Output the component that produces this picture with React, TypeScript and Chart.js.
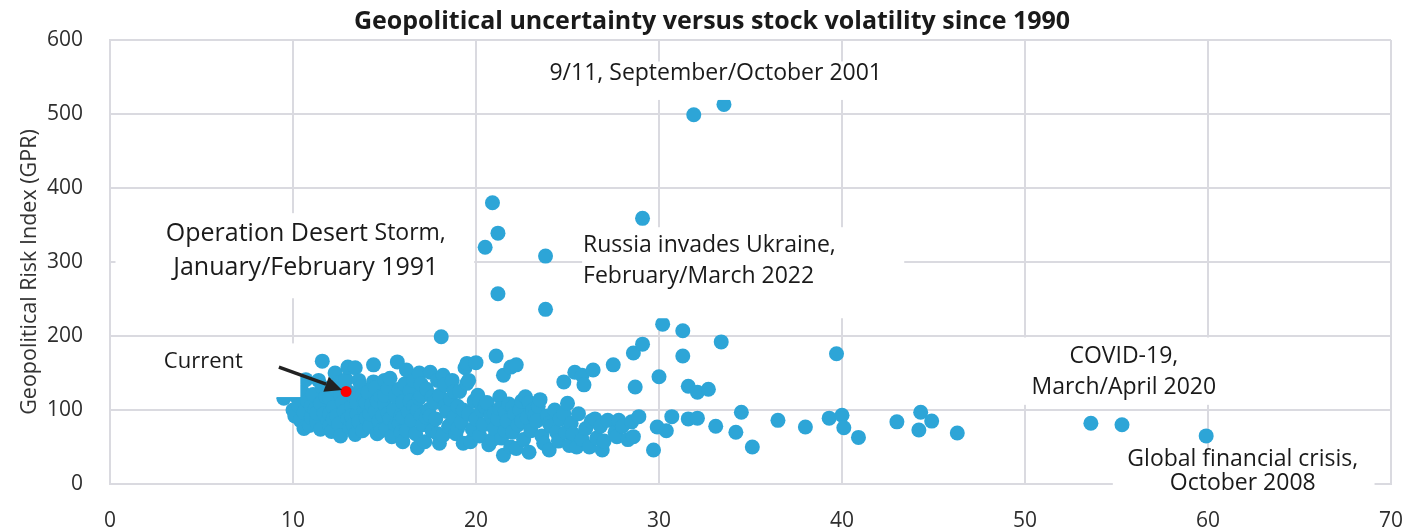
import React, { useEffect, useRef } from "react";
import { Chart, registerables } from "chart.js";

Chart.register(...registerables);

// Monthly observations: [stock volatility, Geopolitical Risk Index]
const lowVolMonths: [number, number][] = [
  [9.5, 116], [10.0, 100], [10.1, 92], [10.2, 118], [10.3, 106], [10.4, 86], [10.5, 125], [10.6, 97],
  [10.6, 75], [10.7, 141], [10.8, 112], [10.9, 79], [11.0, 90], [11.0, 105], [11.1, 121], [11.2, 101],
  [11.3, 84], [11.3, 96], [11.4, 140], [11.5, 74], [11.5, 109], [11.6, 166], [11.6, 131], [11.7, 95],
  [11.8, 118], [11.9, 86], [12.0, 116], [12.0, 95], [12.0, 78], [12.1, 71], [12.2, 103], [12.2, 88],
  [12.3, 150], [12.3, 128], [12.4, 92], [12.5, 81], [12.5, 137], [12.6, 65], [12.6, 120], [12.7, 110],
  [12.8, 98], [12.8, 130], [12.9, 141], [13.0, 158], [13.0, 88], [13.0, 125], [13.1, 76], [13.2, 105],
  [13.2, 92], [13.3, 119], [13.3, 80], [13.4, 157], [13.4, 67], [13.5, 95], [13.5, 110], [13.6, 84],
  [13.6, 140], [13.7, 131], [13.8, 72], [13.8, 120], [13.9, 101], [13.9, 113],
];

const midVolMonths: [number, number][] = [
  [14.0, 89], [14.0, 110], [14.1, 124], [14.2, 78], [14.2, 95], [14.3, 107], [14.4, 138], [14.4, 161],
  [14.5, 98], [14.5, 130], [14.6, 68], [14.6, 112], [14.7, 85], [14.8, 118], [14.8, 72], [14.9, 93],
  [15.0, 108], [15.0, 120], [15.0, 140], [15.1, 75], [15.2, 129], [15.2, 95], [15.3, 143], [15.3, 88],
  [15.4, 64], [15.5, 101], [15.6, 119], [15.6, 80], [15.7, 165], [15.8, 82], [15.8, 128], [15.9, 93],
  [15.9, 70], [16.0, 57], [16.0, 111], [16.0, 90], [16.1, 135], [16.2, 154], [16.2, 72], [16.3, 98],
  [16.4, 125], [16.4, 112], [16.5, 86], [16.6, 105], [16.6, 140], [16.7, 68], [16.8, 49], [16.8, 100],
  [16.9, 150], [16.9, 116], [17.0, 93], [17.0, 120], [17.0, 135], [17.1, 80], [17.2, 57], [17.3, 128],
  [17.3, 90], [17.4, 100], [17.5, 151], [17.5, 92], [17.6, 72], [17.6, 118], [17.7, 110], [17.8, 88],
  [17.9, 140], [17.9, 68], [18.0, 55], [18.0, 120], [18.1, 199], [18.2, 147], [18.2, 66], [18.3, 134],
  [18.3, 105], [18.4, 98], [18.5, 78], [18.6, 115], [18.6, 80], [18.7, 140], [18.8, 90], [18.8, 125],
  [18.9, 68], [19.0, 105], [19.0, 75], [19.1, 125], [19.2, 84], [19.3, 55], [19.3, 100], [19.4, 157],
  [19.5, 163], [19.5, 136], [19.6, 95], [19.6, 140], [19.7, 57], [19.8, 74], [19.9, 112],
];

const highVolMonths: [number, number][] = [
  [20.0, 164], [20.0, 88], [20.1, 120], [20.2, 65], [20.2, 112], [20.3, 100], [20.4, 80], [20.5, 320],
  [20.5, 104], [20.6, 110], [20.7, 53], [20.8, 92], [20.9, 380], [20.9, 60], [21.0, 75], [21.0, 96],
  [21.1, 173], [21.2, 339], [21.2, 257], [21.2, 88], [21.3, 118], [21.3, 102], [21.4, 62], [21.5, 147],
  [21.5, 39], [21.6, 98], [21.6, 72], [21.7, 85], [21.8, 108], [21.9, 158], [21.9, 50], [22.0, 70],
  [22.0, 104], [22.1, 95], [22.2, 161], [22.2, 48], [22.3, 80], [22.4, 100], [22.5, 112], [22.5, 85],
  [22.6, 60], [22.7, 118], [22.8, 90], [22.9, 43], [22.9, 110], [23.0, 72], [23.1, 100], [23.2, 92],
  [23.3, 85], [23.4, 105], [23.5, 114], [23.6, 65], [23.7, 55], [23.8, 308], [23.8, 236], [23.9, 92],
  [24.0, 46], [24.0, 82], [24.1, 78], [24.3, 100], [24.4, 70], [24.5, 58], [24.6, 88], [24.8, 138],
  [24.8, 95], [24.9, 70], [25.0, 109], [25.1, 52], [25.2, 82], [25.3, 68], [25.4, 151], [25.5, 50],
  [25.6, 95], [25.8, 147], [25.8, 60], [25.9, 134], [26.0, 75], [26.2, 50], [26.3, 85], [26.4, 154],
  [26.5, 88], [26.6, 62], [26.8, 78], [26.9, 46], [27.0, 58], [27.2, 86], [27.5, 161], [27.6, 70],
  [27.7, 64], [27.8, 86], [28.0, 78], [28.3, 60], [28.5, 84], [28.6, 177], [28.6, 64], [28.7, 131],
  [28.9, 91], [29.1, 189], [29.1, 359], [29.7, 46], [29.9, 77], [30.0, 145],
];

const extremeVolMonths: [number, number][] = [
  [30.2, 216], [30.4, 72], [30.7, 91], [31.3, 207], [31.3, 173], [31.6, 132], [32.1, 124], [32.7, 128],
  [31.6, 88], [32.1, 89], [33.1, 78], [33.4, 192], [34.5, 97], [34.2, 70], [35.1, 50], [36.5, 86],
  [38.0, 77], [39.3, 89], [39.7, 176], [40.0, 93], [40.1, 76], [40.9, 63], [43.0, 84], [44.3, 97],
  [44.2, 73], [44.9, 85], [46.3, 69], [53.6, 82], [55.3, 80], [59.9, 65], [31.9, 499], [33.55, 513],
];

const currentMonth: [number, number][] = [[12.9, 125]];

const xTicks = [0, 10, 20, 30, 40, 50, 60, 70];
const yTicks = [0, 100, 200, 300, 400, 500, 600];

const TITLE = "Geopolitical uncertainty versus stock volatility since 1990";
const Y_TITLE = "Geopolitical Risk Index (GPR)";

const FONT = "'Open Sans', 'Noto Sans', sans-serif";
const BLUE = "#2DA5D7";
const GRID = "#dadae0";
const TEXT = "#1a1a1a";

type Annot = {
  box: [number, number, number, number]; // x1, x2, y1, y2 in data units
  lines: { text: string; x: number; y: number; size: number; align: CanvasTextAlign; parts?: { text: string; size: number }[] }[];
};

const annotations: Annot[] = [
  {
    box: [23.8, 42.9, 571, 519],
    lines: [{ text: "9/11, September/October 2001", x: 33.1, y: 555, size: 23, align: "center" }],
  },
  {
    box: [0.3, 19.9, 366, 251],
    lines: [
      { text: "", x: 10.7, y: 338, size: 25, align: "center", parts: [{ text: "Operation Desert ", size: 25 }, { text: "Storm,", size: 23 }] },
      { text: "January/February 1991", x: 10.7, y: 292, size: 25, align: "center" },
    ],
  },
  {
    box: [25.8, 43.4, 347, 224],
    lines: [
      { text: "Russia invades Ukraine,", x: 25.85, y: 323, size: 23, align: "left" },
      { text: "February/March 2022", x: 25.85, y: 280, size: 23, align: "left" },
    ],
  },
  {
    box: [49.1, 61.7, 198, 107],
    lines: [
      { text: "COVID-19,", x: 55.4, y: 172, size: 23, align: "center" },
      { text: "March/April 2020", x: 55.4, y: 130, size: 23, align: "center" },
    ],
  },
  {
    box: [54.8, 69.1, 48, -17],
    lines: [
      { text: "Global financial crisis,", x: 61.9, y: 33, size: 23, align: "center" },
      { text: "October 2008", x: 61.9, y: 1, size: 23, align: "center" },
    ],
  },
  {
    box: [2.2, 10.4, 190, 117.5],
    lines: [{ text: "Current", x: 5.1, y: 165, size: 22, align: "center" }],
  },
];

const arrowFrom: [number, number] = [9.23, 158];
const arrowTo: [number, number] = [12.68, 127];

const overlayPlugin = {
  id: "overlay",
  afterDatasetsDraw(chart: any) {
    const { ctx, scales } = chart;
    const xs = scales.x;
    const ys = scales.y;
    ctx.save();
    // boxes
    ctx.fillStyle = "#ffffff";
    for (const a of annotations) {
      const x1 = xs.getPixelForValue(a.box[0]);
      const x2 = xs.getPixelForValue(a.box[1]);
      const y1 = ys.getPixelForValue(a.box[2]);
      const y2 = ys.getPixelForValue(a.box[3]);
      ctx.fillRect(x1, y1, x2 - x1, y2 - y1);
    }
    // texts
    ctx.fillStyle = TEXT;
    ctx.textBaseline = "middle";
    for (const a of annotations) {
      for (const l of a.lines) {
        const px = xs.getPixelForValue(l.x);
        const py = ys.getPixelForValue(l.y);
        if (l.parts) {
          let total = 0;
          for (const p of l.parts) {
            ctx.font = `${p.size}px ${FONT}`;
            total += ctx.measureText(p.text).width;
          }
          let cx = l.align === "center" ? px - total / 2 : px;
          ctx.textAlign = "left";
          for (const p of l.parts) {
            ctx.font = `${p.size}px ${FONT}`;
            ctx.fillText(p.text, cx, py);
            cx += ctx.measureText(p.text).width;
          }
        } else {
          ctx.font = `${l.size}px ${FONT}`;
          ctx.textAlign = l.align;
          ctx.fillText(l.text, px, py);
        }
      }
    }
    // arrow
    const sx = xs.getPixelForValue(arrowFrom[0]);
    const sy = ys.getPixelForValue(arrowFrom[1]);
    const tx = xs.getPixelForValue(arrowTo[0]);
    const ty = ys.getPixelForValue(arrowTo[1]);
    const ang = Math.atan2(ty - sy, tx - sx);
    const headLen = 17;
    const headW = 8;
    const bx = tx - headLen * Math.cos(ang);
    const by = ty - headLen * Math.sin(ang);
    ctx.strokeStyle = "#222222";
    ctx.fillStyle = "#222222";
    ctx.lineWidth = 3.5;
    ctx.beginPath();
    ctx.moveTo(sx, sy);
    ctx.lineTo(bx, by);
    ctx.stroke();
    ctx.beginPath();
    ctx.moveTo(tx, ty);
    ctx.lineTo(bx + headW * Math.sin(ang), by - headW * Math.cos(ang));
    ctx.lineTo(bx - headW * Math.sin(ang), by + headW * Math.cos(ang));
    ctx.closePath();
    ctx.fill();
    // title
    ctx.fillStyle = TEXT;
    ctx.font = `bold 25px ${FONT}`;
    ctx.textAlign = "center";
    ctx.textBaseline = "middle";
    ctx.fillText(TITLE, 712, 22);
    // y title
    ctx.translate(30, 272);
    ctx.rotate(-Math.PI / 2);
    ctx.font = `21.5px ${FONT}`;
    ctx.fillStyle = "#333333";
    ctx.fillText(Y_TITLE, 0, 0);
    ctx.restore();
  },
};

const toPoints = (arr: [number, number][]) => arr.map(([x, y]) => ({ x, y }));

export default function App() {
  const ref = useRef<HTMLCanvasElement | null>(null);
  useEffect(() => {
    if (!ref.current) return;
    const chart = new Chart(ref.current, {
      type: "scatter",
      data: {
        datasets: [
          {
            label: "Current",
            data: toPoints(currentMonth),
            backgroundColor: "#ff0000",
            borderColor: "#ff0000",
            borderWidth: 0,
            pointRadius: 5.5,
            order: 0,
          },
          {
            label: "Since 1990",
            data: toPoints([...lowVolMonths, ...midVolMonths, ...highVolMonths, ...extremeVolMonths]),
            backgroundColor: BLUE,
            borderColor: BLUE,
            borderWidth: 0,
            pointRadius: 7.5,
            order: 1,
          },
        ],
      },
      options: {
        animation: false,
        responsive: false,
        maintainAspectRatio: false,
        layout: { padding: { top: 40, right: 14, left: 0, bottom: 0 } },
        plugins: {
          legend: { display: false },
          title: { display: false },
          tooltip: { enabled: false },
        },
        scales: {
          x: {
            type: "linear",
            min: 0,
            max: 70,
            afterBuildTicks: (s: any) => {
              s.ticks = xTicks.map((v) => ({ value: v }));
            },
            afterFit: (s: any) => {
              s.height = 44;
              s.paddingLeft = 0;
              s.paddingRight = 0;
            },
            ticks: {
              font: { family: FONT, size: 21 },
              color: "#2e2e2e",
              padding: 24,
              maxRotation: 0,
            },
            grid: { color: GRID, lineWidth: 2, drawTicks: false },
            border: { color: GRID, width: 2 },
          },
          y: {
            type: "linear",
            min: 0,
            max: 600,
            afterBuildTicks: (s: any) => {
              s.ticks = yTicks.map((v) => ({ value: v }));
            },
            afterFit: (s: any) => {
              s.width = 110;
              s.paddingTop = 0;
              s.paddingBottom = 0;
            },
            ticks: {
              font: { family: FONT, size: 21 },
              color: "#2e2e2e",
              padding: 27,
            },
            grid: { color: GRID, lineWidth: 2, drawTicks: false },
            border: { color: GRID, width: 2 },
          },
        },
      },
      plugins: [overlayPlugin],
    });
    return () => chart.destroy();
  }, []);
  return (
    <div style={{ position: "fixed", left: 0, top: 0, width: 1405, height: 528, background: "#fff" }}>
      <canvas ref={ref} width={1405} height={528} style={{ display: "block", width: 1405, height: 528 }} />
    </div>
  );
}
